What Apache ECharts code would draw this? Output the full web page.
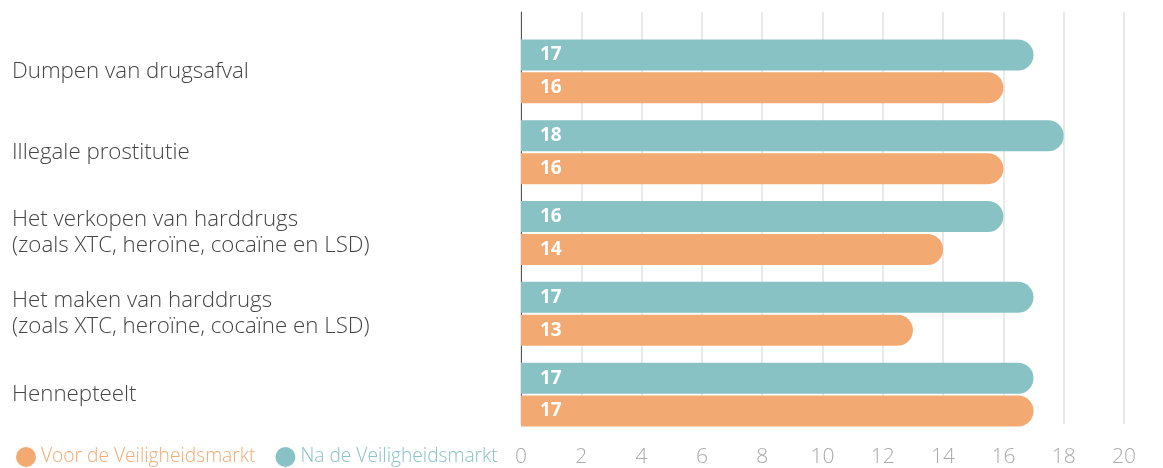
<!DOCTYPE html>
<html>
<head>
<meta charset="utf-8">
<script src="https://cdn.jsdelivr.net/npm/echarts@6/dist/echarts.min.js"></script>
<style>
  html, body { margin: 0; padding: 0; background: #fff; }
  #chart { width: 1163px; height: 468px; }
</style>
</head>
<body>
<div id="chart"></div>
<script>
// categories, van onder naar boven
var categories = [
  'Hennepteelt',
  'Het maken van harddrugs\n(zoals XTC, heroïne, cocaïne en LSD)',
  'Het verkopen van harddrugs\n(zoals XTC, heroïne, cocaïne en LSD)',
  'Illegale prostitutie',
  'Dumpen van drugsafval'
]
var voor = [17, 13, 14, 16, 16]
var na = [17, 17, 16, 18, 17]
var xTicks = [0, 20, 2] // min, max, interval

var orange = '#F2AA72'
var teal = '#89C2C5'
var font = 'Open Sans'

var chart = echarts.init(document.getElementById('chart'))

var barLabel = {
  show: true,
  position: 'insideLeft',
  distance: 19,
  color: '#fff',
  fontWeight: 'bold',
  fontSize: 19,
  fontFamily: font
}

var option = {
  animation: false,
  backgroundColor: '#fff',
  legend: {
    left: 11,
    top: 442,
    icon: 'circle',
    itemWidth: 20,
    itemHeight: 20,
    itemGap: 20,
    textStyle: { fontSize: 19.2, fontFamily: font, fontWeight: 300 },
    data: [
      { name: 'Voor de Veiligheidsmarkt', textStyle: { color: orange } },
      { name: 'Na de Veiligheidsmarkt', textStyle: { color: teal } }
    ]
  },
  grid: [
    { left: 521, right: 39, top: 31, bottom: 33 },
    // alleen voor de lijnen en labels van de x-as
    { left: 521, right: 39, top: 12, bottom: 31 }
  ],
  xAxis: [{
    gridIndex: 0,
    type: 'value',
    min: xTicks[0], max: xTicks[1], interval: xTicks[2],
    show: false
  }, {
    gridIndex: 1,
    type: 'value',
    min: xTicks[0], max: xTicks[1], interval: xTicks[2],
    axisLine: { show: false },
    axisTick: { show: false },
    splitLine: { lineStyle: { color: '#e2e2e2', width: 1.5 } },
    axisLabel: {
      margin: 23,
      fontSize: 21,
      fontFamily: font,
      fontWeight: 300,
      color: function (v) { return v === 0 ? '#444' : '#aaa' }
    }
  }],
  yAxis: [{
    gridIndex: 0,
    type: 'category',
    data: categories,
    axisLine: { show: false },
    axisTick: { show: false },
    axisLabel: {
      align: 'left',
      margin: 509,
      fontSize: 22.3,
      lineHeight: 26,
      fontFamily: font,
      fontWeight: 300,
      color: '#444'
    }
  }, {
    gridIndex: 1,
    type: 'value',
    axisLine: { show: true, lineStyle: { color: '#555', width: 1 } },
    axisTick: { show: false },
    axisLabel: { show: false },
    splitLine: { show: false }
  }],
  series: [{
    name: 'Na de Veiligheidsmarkt',
    type: 'bar',
    data: na,
    barWidth: 31,
    barGap: '6%',
    itemStyle: { color: teal, borderRadius: [0, 16, 16, 0] },
    label: barLabel
  }, {
    name: 'Voor de Veiligheidsmarkt',
    type: 'bar',
    data: voor,
    barWidth: 31,
    barGap: '6%',
    itemStyle: { color: orange, borderRadius: [0, 16, 16, 0] },
    label: barLabel
  }]
}

chart.setOption(option)
</script>
</body>
</html>
